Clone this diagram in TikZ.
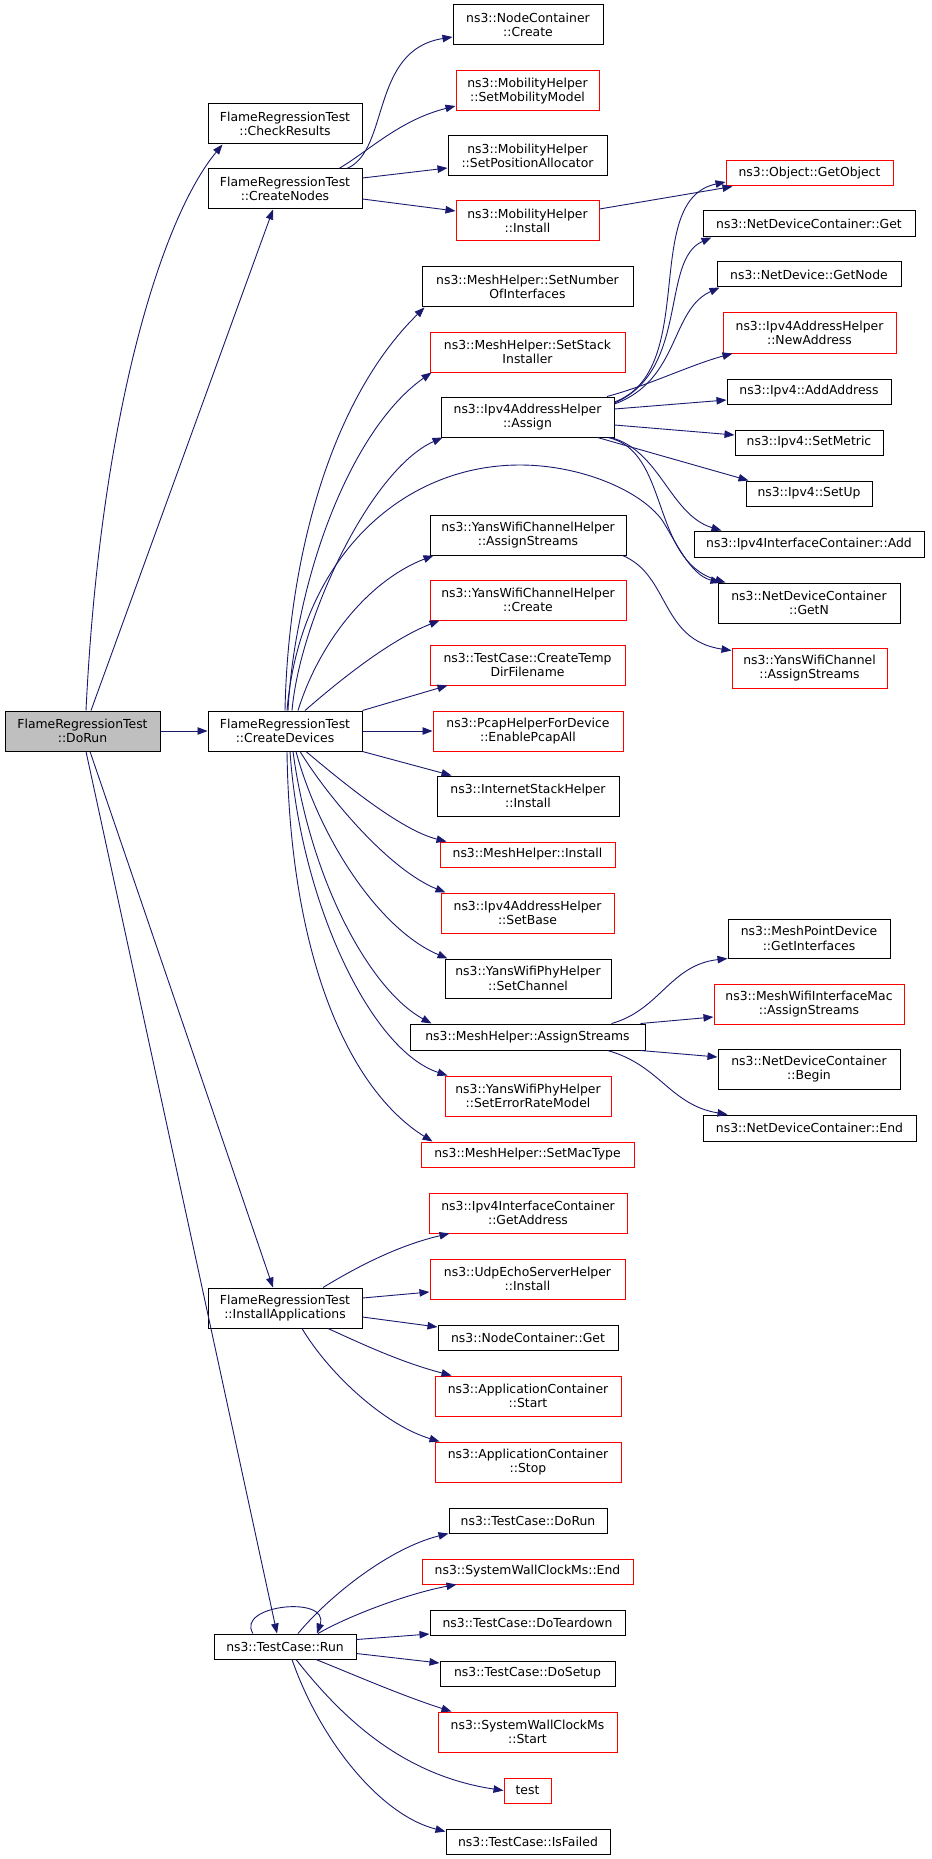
\documentclass[tikz,border=0pt]{standalone}
\usepackage{fontspec}
\setmainfont{DejaVu Sans}
\usetikzlibrary{arrows.meta}
\definecolor{edgecol}{HTML}{191970}
\definecolor{boxred}{HTML}{FF0000}
\definecolor{rootfill}{HTML}{BFBFBF}
\newcommand{\mkbox}[7]{%
 \pgfmathsetmacro{\mkcx}{(#3+#4)/2}\pgfmathsetmacro{\mkcy}{(#5+#6)/2}%
 \pgfmathsetmacro{\mkww}{#4-#3}\pgfmathsetmacro{\mkhh}{#6-#5}%
 \node[#1, minimum width=\mkww pt, minimum height=\mkhh pt] (#2) at (\mkcx,\mkcy) {#7};}
\begin{document}
\begin{tikzpicture}[x=1pt,y=-1pt,
  fn/.style={draw=black, line width=1pt, fill=white, inner sep=0pt, align=center,
    font=\fontsize{12.4}{14.7}\selectfont},
  fnred/.style={fn, draw=boxred},
  fnroot/.style={fn, fill=rootfill},
  ed/.style={draw=edgecol, line width=0.9pt, -{Triangle[length=10pt,width=7.5pt,fill=edgecol]}}]
\useasboundingbox[fill=white] (0,0) rectangle (931,1859);
% left column
\mkbox{fnroot}{dorun}{5}{160}{711}{751}{FlameRegressionTest\\::DoRun}
\mkbox{fn}{check}{208}{362}{104}{144}{FlameRegressionTest\\::CheckResults}
\mkbox{fn}{cnodes}{208}{362}{169}{209}{FlameRegressionTest\\::CreateNodes}
\mkbox{fn}{cdev}{208}{362}{711}{751}{FlameRegressionTest\\::CreateDevices}
\mkbox{fn}{iapp}{208}{362}{1288}{1328}{FlameRegressionTest\\::InstallApplications}
\mkbox{fn}{run}{214}{356}{1634}{1659}{ns3::TestCase::Run}
% middle column
\mkbox{fn}{nccreate}{453}{603}{5}{45}{ns3::NodeContainer\\::Create}
\mkbox{fnred}{setmob}{456}{599}{71}{111}{ns3::MobilityHelper\\::SetMobilityModel}
\mkbox{fn}{setpos}{448}{607}{136}{176}{ns3::MobilityHelper\\::SetPositionAllocator}
\mkbox{fnred}{mobinst}{456}{599}{201}{241}{ns3::MobilityHelper\\::Install}
\mkbox{fn}{setnum}{422}{633}{267}{307}{ns3::MeshHelper::SetNumber\\OfInterfaces}
\mkbox{fnred}{setstack}{430}{625}{332}{372}{ns3::MeshHelper::SetStack\\Installer}
\mkbox{fn}{assign}{441}{614}{397}{437}{ns3::Ipv4AddressHelper\\::Assign}
\mkbox{fn}{ywchas}{430}{626}{515}{555}{ns3::YansWifiChannelHelper\\::AssignStreams}
\mkbox{fnred}{ywchcreate}{430}{626}{580}{620}{ns3::YansWifiChannelHelper\\::Create}
\mkbox{fnred}{tmpdir}{430}{625}{645}{685}{ns3::TestCase::CreateTemp\\DirFilename}
\mkbox{fnred}{pcap}{433}{623}{711}{751}{ns3::PcapHelperForDevice\\::EnablePcapAll}
\mkbox{fn}{isinst}{437}{619}{776}{816}{ns3::InternetStackHelper\\::Install}
\mkbox{fnred}{mhinst}{440}{615}{842}{867}{ns3::MeshHelper::Install}
\mkbox{fnred}{setbase}{441}{614}{893}{933}{ns3::Ipv4AddressHelper\\::SetBase}
\mkbox{fn}{setchan}{445}{611}{959}{998}{ns3::YansWifiPhyHelper\\::SetChannel}
\mkbox{fn}{mhas}{410}{645}{1024}{1050}{ns3::MeshHelper::AssignStreams}
\mkbox{fnred}{seterr}{445}{611}{1076}{1116}{ns3::YansWifiPhyHelper\\::SetErrorRateModel}
\mkbox{fnred}{setmac}{421}{634}{1142}{1167}{ns3::MeshHelper::SetMacType}
\mkbox{fnred}{getaddr}{429}{627}{1193}{1233}{ns3::Ipv4InterfaceContainer\\::GetAddress}
\mkbox{fnred}{udp}{430}{625}{1259}{1299}{ns3::UdpEchoServerHelper\\::Install}
\mkbox{fn}{ncget}{438}{618}{1325}{1350}{ns3::NodeContainer::Get}
\mkbox{fnred}{appstart}{435}{621}{1376}{1416}{ns3::ApplicationContainer\\::Start}
\mkbox{fnred}{appstop}{435}{621}{1442}{1482}{ns3::ApplicationContainer\\::Stop}
\mkbox{fn}{tcdorun}{449}{607}{1508}{1533}{ns3::TestCase::DoRun}
\mkbox{fnred}{swend}{422}{633}{1559}{1584}{ns3::SystemWallClockMs::End}
\mkbox{fn}{teardown}{430}{625}{1610}{1635}{ns3::TestCase::DoTeardown}
\mkbox{fn}{setup}{440}{615}{1661}{1686}{ns3::TestCase::DoSetup}
\mkbox{fnred}{swstart}{438}{617}{1712}{1752}{ns3::SystemWallClockMs\\::Start}
\mkbox{fnred}{test}{504}{551}{1778}{1803}{test}
\mkbox{fn}{isfailed}{446}{610}{1829}{1854}{ns3::TestCase::IsFailed}
% right column
\mkbox{fnred}{getobj}{726}{893}{161}{186}{ns3::Object::GetObject}
\mkbox{fn}{ndcget}{703}{915}{211}{237}{ns3::NetDeviceContainer::Get}
\mkbox{fn}{getnode}{717}{901}{262}{287}{ns3::NetDevice::GetNode}
\mkbox{fnred}{newaddr}{723}{896}{313}{353}{ns3::Ipv4AddressHelper\\::NewAddress}
\mkbox{fn}{addaddr}{727}{891}{379}{404}{ns3::Ipv4::AddAddress}
\mkbox{fn}{setmetric}{735}{883}{430}{455}{ns3::Ipv4::SetMetric}
\mkbox{fn}{setupfour}{746}{872}{481}{506}{ns3::Ipv4::SetUp}
\mkbox{fn}{ifcadd}{694}{924}{531}{557}{ns3::Ipv4InterfaceContainer::Add}
\mkbox{fn}{getn}{718}{900}{583}{623}{ns3::NetDeviceContainer\\::GetN}
\mkbox{fnred}{ywcas}{732}{887}{648}{688}{ns3::YansWifiChannel\\::AssignStreams}
\mkbox{fn}{getif}{728}{890}{919}{958}{ns3::MeshPointDevice\\::GetInterfaces}
\mkbox{fnred}{mwimas}{714}{904}{984}{1024}{ns3::MeshWifiInterfaceMac\\::AssignStreams}
\mkbox{fn}{begin}{718}{900}{1049}{1089}{ns3::NetDeviceContainer\\::Begin}
\mkbox{fn}{endn}{703}{916}{1115}{1141}{ns3::NetDeviceContainer::End}
% edges from DoRun
\draw[ed] ([xshift=3.5pt]dorun.north) .. controls (100,420) and (160,220) .. ([xshift=15pt]check.south west);
\draw[ed] ([xshift=8.5pt]dorun.north) -- ([xshift=-12pt]cnodes.south);
\draw[ed] (dorun.east) -- (cdev.west);
\draw[ed] ([xshift=7.5pt]dorun.south) -- ([xshift=-12pt]iapp.north);
\draw[ed] ([xshift=3.5pt]dorun.south) -- ([xshift=-8pt]run.north);
% CreateNodes
\draw[ed] ([xshift=62pt]cnodes.north) .. controls (390,150) and (370,50) .. ([yshift=-12pt]nccreate.west);
\draw[ed] ([xshift=54pt]cnodes.north) .. controls (370,150) and (400,120) .. ([yshift=-15pt]setmob.west);
\draw[ed] ([yshift=11pt]cnodes.east) -- ([yshift=-12pt]setpos.west);
\draw[ed] ([yshift=-10pt]cnodes.east) -- ([yshift=10pt]mobinst.west);
\draw[ed] ([yshift=12pt]mobinst.east) -- ([xshift=7pt]getobj.south west);
% Assign
\draw[ed] ([yshift=15pt]assign.east) .. controls (700,370) and (640,200) .. ([yshift=-8.5pt]getobj.west);
\draw[ed] ([yshift=14pt]assign.east) .. controls (690,370) and (660,260) .. ([xshift=9pt]ndcget.south west);
\draw[ed] ([yshift=13pt]assign.east) .. controls (680,380) and (670,310) .. ([xshift=3pt]getnode.south west);
\draw[ed] ([xshift=79.5pt]assign.north) .. controls (650,385) and (690,365) .. ([xshift=10pt]newaddr.south west);
\draw[ed] ([yshift=8pt]assign.east) -- ([yshift=-8.5pt]addaddr.west);
\draw[ed] ([yshift=-8pt]assign.east) -- ([yshift=7.5pt]setmetric.west);
\draw[ed] ([xshift=70pt]assign.south) -- ([xshift=3pt]setupfour.north west);
\draw[ed] ([xshift=83pt]assign.south) .. controls (660,450) and (670,515) .. ([xshift=28pt]ifcadd.north west);
\draw[ed] ([xshift=80pt]assign.south) .. controls (670,450) and (650,560) .. ([xshift=8pt]getn.north west);
% CreateDevices top fan
\draw[ed] ([xshift=2pt]cdev.north) .. controls (300,560) and (400,465) .. (520,465)
   .. controls (580,465) and (640,490) .. (662,520) .. controls (675,540) and (690,575) .. ([xshift=3pt]getn.north west);
\draw[ed] (cdev.north) .. controls (288,560) and (330,400) .. ([xshift=3pt]setnum.south west);
\draw[ed] ([xshift=3pt]cdev.north) .. controls (295,580) and (350,430) .. ([xshift=2pt]setstack.south west);
\draw[ed] ([xshift=7pt]cdev.north) .. controls (300,620) and (370,470) .. ([xshift=2pt]assign.south west);
\draw[ed] ([xshift=13pt]cdev.north) .. controls (320,640) and (370,580) .. ([xshift=4pt]ywchas.south west);
\draw[ed] ([xshift=20pt]cdev.north) .. controls (340,680) and (390,640) .. ([xshift=10pt]ywchcreate.south west);
\draw[ed] (cdev.north east) -- ([xshift=18pt]tmpdir.south west);
\draw[ed] (cdev.east) -- (pcap.west);
% CreateDevices bottom fan
\draw[ed] (cdev.south east) -- ([xshift=15pt]isinst.north west);
\draw[ed] ([xshift=21pt]cdev.south) .. controls (340,780) and (400,830) .. ([xshift=7pt]mhinst.north west);
\draw[ed] ([xshift=15pt]cdev.south) .. controls (330,800) and (390,870) .. ([xshift=5pt]setbase.north west);
\draw[ed] ([xshift=11pt]cdev.south) .. controls (320,840) and (380,930) .. ([xshift=3pt]setchan.north west);
\draw[ed] ([xshift=8pt]cdev.south) .. controls (310,880) and (370,990) .. ([xshift=22pt]mhas.north west);
\draw[ed] ([xshift=5pt]cdev.south) .. controls (300,900) and (370,1050) .. ([xshift=3pt]seterr.north west);
\draw[ed] ([xshift=2pt]cdev.south) .. controls (290,960) and (350,1090) .. ([xshift=12pt]setmac.north west);
% YansWifiChannelHelper::AssignStreams
\draw[ed] ([xshift=-4pt]ywchas.south east) .. controls (670,575) and (660,640) .. ([yshift=-3pt]ywcas.north west);
% MeshHelper::AssignStreams
\draw[ed] ([xshift=84pt]mhas.north) .. controls (660,1010) and (670,965) .. (getif.south west);
\draw[ed] ([xshift=-5pt]mhas.north east) -- ([yshift=-13pt]mwimas.west);
\draw[ed] ([xshift=-5pt]mhas.south east) -- ([yshift=12pt]begin.west);
\draw[ed] ([xshift=80pt]mhas.south) .. controls (660,1065) and (670,1105) .. ([xshift=25pt]endn.north west);
% InstallApplications
\draw[ed] ([xshift=38pt]iapp.north) .. controls (360,1265) and (400,1245) .. ([xshift=21pt]getaddr.south west);
\draw[ed] ([yshift=10pt]iapp.east) -- ([yshift=-13pt]udp.west);
\draw[ed] ([yshift=-9pt]iapp.east) -- ([yshift=10.5pt]ncget.west);
\draw[ed] ([xshift=43pt]iapp.south) .. controls (360,1343) and (400,1362) .. ([xshift=17pt]appstart.north west);
\draw[ed] ([xshift=17pt]iapp.south) .. controls (330,1375) and (385,1425) .. ([xshift=5pt]appstop.north west);
% TestCase::Run
\draw[ed] ([xshift=-32pt]run.north) .. controls (235,1605) and (330,1595) .. ([xshift=32pt]run.north);
\draw[ed] ([xshift=13pt]run.north) .. controls (330,1595) and (390,1548) .. (tcdorun.south west);
\draw[ed] ([xshift=33pt]run.north) .. controls (350,1615) and (410,1593) .. ([xshift=35pt]swend.south west);
\draw[ed] ([yshift=7pt]run.east) -- ([yshift=-11.5pt]teardown.west);
\draw[ed] ([yshift=-7pt]run.east) -- ([yshift=10.5pt]setup.west);
\draw[ed] ([xshift=31pt]run.south) .. controls (350,1673) and (400,1695) .. ([xshift=14pt]swstart.north west);
\draw[ed] ([xshift=11pt]run.south) .. controls (340,1715) and (400,1775) .. (test.west);
\draw[ed] ([xshift=7pt]run.south) .. controls (320,1740) and (380,1815) .. ([yshift=-3pt]isfailed.north west);
\end{tikzpicture}
\end{document}
